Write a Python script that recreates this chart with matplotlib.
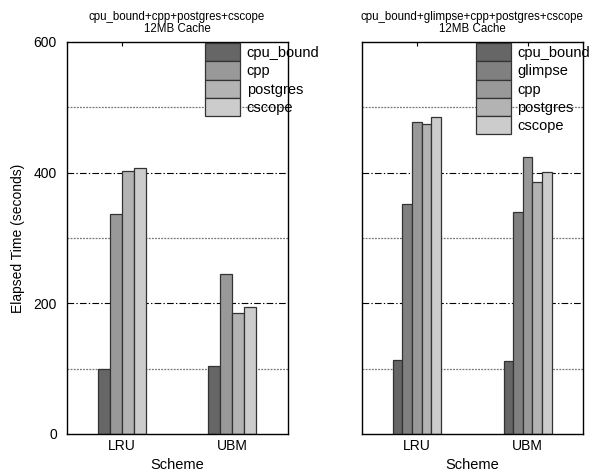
import numpy as np
import matplotlib
matplotlib.use('Agg')
import matplotlib.pyplot as plt

plt.rcParams['font.family'] = ['Liberation Sans', 'DejaVu Sans']

# Data
schemes = ['LRU', 'UBM']

left_title = 'cpu_bound+cpp+postgres+cscope\n12MB Cache'
left_labels = ['cpu_bound', 'cpp', 'postgres', 'cscope']
left_values = {
    'cpu_bound': [99, 104],
    'cpp': [336, 244],
    'postgres': [403, 185],
    'cscope': [407, 195],
}

right_title = 'cpu_bound+glimpse+cpp+postgres+cscope\n12MB Cache'
right_labels = ['cpu_bound', 'glimpse', 'cpp', 'postgres', 'cscope']
right_values = {
    'cpu_bound': [113, 112],
    'glimpse': [352, 340],
    'cpp': [477, 424],
    'postgres': [474, 385],
    'cscope': [485, 401],
}

colors = {
    'cpu_bound': '#666666',
    'glimpse': '#808080',
    'cpp': '#999999',
    'postgres': '#b3b3b3',
    'cscope': '#cccccc',
}

W, H = 593, 472
fig = plt.figure(figsize=(W / 100, H / 100), dpi=100)


def draw_panel(rect, title, labels, values, legend_x, show_ylabel):
    ax = fig.add_axes(rect)
    x = np.arange(len(schemes))
    n = len(labels)
    group = 0.435
    w = group / n
    for i, lab in enumerate(labels):
        pos = x - group / 2 + w * (i + 0.5)
        ax.bar(pos, values[lab], width=w, color=colors[lab], edgecolor='#333333',
               linewidth=0.9, label=lab, zorder=2)
    # grid lines
    for y in [100, 300, 500]:
        ax.axhline(y, color='#777777', linestyle=(0, (1.5, 1)), linewidth=0.9, zorder=0)
    for y in [200, 400]:
        ax.axhline(y, color='black', linestyle=(0, (6, 2, 1.2, 2)), linewidth=0.8, zorder=0)
    ax.set_xlim(-0.5, 1.5)
    ax.set_ylim(0, 600)
    ax.set_xticks(x)
    ax.set_xticklabels(schemes, fontsize=10)
    ax.set_yticks([0, 200, 400, 600])
    ax.tick_params(axis='x', direction='in', length=3, top=True, bottom=False, pad=4)
    ax.tick_params(axis='y', length=0, pad=7, labelsize=10)
    if not show_ylabel:
        ax.set_yticklabels([])
    else:
        ax.set_ylabel('Elapsed Time (seconds)', fontsize=10, labelpad=6)
    ax.set_xlabel('Scheme', fontsize=10.5, labelpad=3)
    ax.set_title(title, fontsize=8.3, pad=7, linespacing=1.05)
    for s in ax.spines.values():
        s.set_linewidth(1.0)
    ax.legend(loc='upper left', bbox_to_anchor=(legend_x, 0.997), frameon=False,
              fontsize=10.5, handlelength=2.4, handleheight=1.55, labelspacing=0,
              handletextpad=0.45, borderpad=0, borderaxespad=0)
    return ax


ax1 = draw_panel([66.5 / W, (H - 433.9) / H, 221 / W, 392 / H],
                 left_title, left_labels, left_values, 0.627, True)
ax2 = draw_panel([361.5 / W, (H - 433.9) / H, 221.5 / W, 392 / H],
                 right_title, right_labels, right_values, 0.516, False)

fig.savefig('out.png', dpi=100)
